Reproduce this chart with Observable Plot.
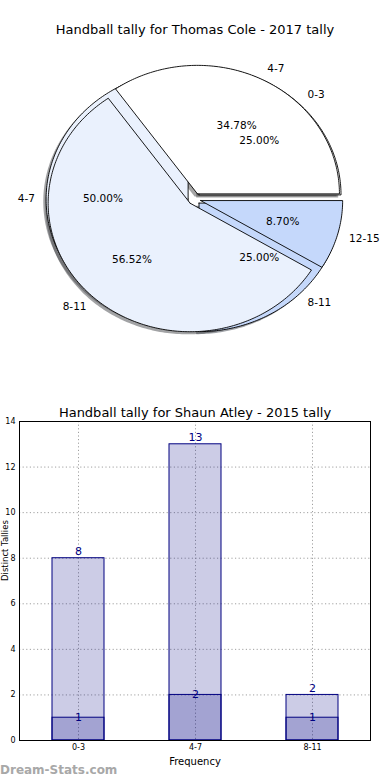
<!DOCTYPE html>
<html><head><meta charset="utf-8">
<script src="https://cdn.jsdelivr.net/npm/d3@7"></script>
<script src="https://cdn.jsdelivr.net/npm/@observablehq/plot@0.6"></script>
<style>
body{margin:0;background:#fff;font-family:"DejaVu Sans",sans-serif;}
#wrap{position:relative;width:390px;height:780px;overflow:hidden;background:#fff;}
.title{position:absolute;left:0;width:390px;text-align:center;font-size:13px;color:#000;line-height:16px;}
#pie{position:absolute;left:0;top:0;}
#bar{position:absolute;left:0;top:400px;}
#wm{position:absolute;left:0;top:763px;font-size:12px;color:#a8a8a8;font-weight:bold;}
</style></head><body>
<div id="wrap">
<div id="pie"></div>
<div class="title" style="top:22px" id="t1"></div>
<div id="bar"></div>
<div class="title" style="top:405px" id="t2"></div>
<div id="wm"></div>
</div>
<script>
// ---- data ----
const pieTitle = "Handball tally for Thomas Cole - 2017 tally";
const pieALabels = ["4-7", "8-11", "12-15"];
const pieAValues = [8, 13, 2];
const pieBLabels = ["0-3", "4-7", "8-11"];
const pieBValues = [1, 2, 1];
const pieColors = ["#ffffff", "#eaf1fd", "#c5d8fb"];

const barTitle = "Handball tally for Shaun Atley - 2015 tally";
const categories = ["0-3", "4-7", "8-11"];
const totals = [8, 13, 2];
const inner = [1, 2, 1];
const yTicks = [0, 2, 4, 6, 8, 10, 12, 14];
const xLabel = "Frequency";
const yLabel = "Distinct Tallies";
const watermark = "Dream-Stats.com";

document.getElementById("t1").textContent = pieTitle;
document.getElementById("t2").textContent = barTitle;
document.getElementById("wm").textContent = watermark;

// ---- pie geometry ----
const EXPLODE = 0.045, SH = 0.02;
function wedges(labels, values) {
  const total = d3.sum(values);
  let start = 0;
  return values.map((v, i) => {
    const frac = v / total;
    const t1 = start * 360, t2 = (start + frac) * 360;
    start += frac;
    const tm = (t1 + t2) / 2 * Math.PI / 180;
    const cx = EXPLODE * Math.cos(tm), cy = EXPLODE * Math.sin(tm);
    const pts = [{x: cx, y: cy}];
    const n = Math.max(2, Math.ceil(t2 - t1));
    for (let k = 0; k <= n; k++) {
      const a = (t1 + (t2 - t1) * k / n) * Math.PI / 180;
      pts.push({x: cx + Math.cos(a), y: cy + Math.sin(a)});
    }
    pts.push({x: cx, y: cy});
    return {
      pts, color: pieColors[i % pieColors.length], label: labels[i],
      pct: (frac * 100).toFixed(2) + "%",
      lx: cx + 1.1 * Math.cos(tm), ly: cy + 1.1 * Math.sin(tm),
      px: cx + 0.6 * Math.cos(tm), py: cy + 0.6 * Math.sin(tm)
    };
  });
}
const wA = wedges(pieALabels, pieAValues);
const wB = wedges(pieBLabels, pieBValues);
function shade(c) {
  const r = d3.rgb(c);
  return d3.rgb(r.r * 0.3, r.g * 0.3, r.b * 0.3).formatHex();
}
const pieMarks = [];
for (const w of [...wB, ...wA]) {
  pieMarks.push(Plot.line(w.pts.map(p => ({x: p.x - SH, y: p.y - SH})),
    {x: "x", y: "y", fill: shade(w.color), fillOpacity: 0.5, stroke: "none"}));
}
for (const w of [...wB, ...wA]) {
  pieMarks.push(Plot.line(w.pts, {x: "x", y: "y", fill: w.color, stroke: "#000", strokeWidth: 0.9}));
}
const allW = [...wB, ...wA];
pieMarks.push(Plot.text(allW.filter(w => w.lx >= 0), {x: "lx", y: "ly", text: "label", textAnchor: "start", dx: -2, fontSize: 10.5, fill: "#000"}));
pieMarks.push(Plot.text(allW.filter(w => w.lx < 0), {x: "lx", y: "ly", text: "label", textAnchor: "end", dx: 3, fontSize: 10.5, fill: "#000"}));
pieMarks.push(Plot.text(allW, {x: "px", y: "py", text: "pct", fontSize: 10.5, fill: "#000"}));

const pie = Plot.plot({
  width: 390, height: 395, margin: 0,
  style: {fontFamily: "DejaVu Sans", background: "transparent"},
  x: {domain: [-1, 1], range: [52, 336], axis: null},
  y: {domain: [-1, 1], range: [327, 70], axis: null},
  marks: pieMarks
});
document.getElementById("pie").appendChild(pie);

// ---- bar chart ----
const barData = categories.map((c, i) => ({cat: c, total: totals[i], inner: inner[i]}));
const navy = "#000080";
const bar = Plot.plot({
  width: 390, height: 380,
  marginLeft: 19, marginRight: 20, marginTop: 21, marginBottom: 40,
  style: {fontFamily: "DejaVu Sans", background: "transparent"},
  x: {domain: categories, paddingInner: 0.556, paddingOuter: 0.278, label: null},
  y: {domain: [0, 14], label: null},
  marks: [
    Plot.gridX({stroke: "#a0a0a0", strokeOpacity: 1, strokeDasharray: "1.2,2.4"}),
    Plot.gridY(yTicks, {stroke: "#a0a0a0", strokeOpacity: 1, strokeDasharray: "1.2,2.4"}),
    Plot.barY(barData, {x: "cat", y: "total", fill: navy, fillOpacity: 0.2, stroke: navy, strokeWidth: 1}),
    Plot.barY(barData, {x: "cat", y: "inner", fill: navy, fillOpacity: 0.2, stroke: navy, strokeWidth: 1}),
    Plot.text(barData, {x: "cat", y: "total", text: d => String(d.total), lineAnchor: "bottom", dy: -3, fill: navy, fontSize: 11}),
    Plot.text(barData, {x: "cat", y: "inner", text: d => String(d.inner), fill: navy, fontSize: 11}),
    Plot.axisX({tickSize: 0, tickPadding: 4, fontSize: 8, label: null}),
    Plot.axisY(yTicks, {tickSize: 0, tickPadding: 4, fontSize: 8, label: null}),
    Plot.text([xLabel], {frameAnchor: "bottom", dy: 24, text: d => d, fontSize: 10, fill: "#000"}),
    Plot.text([yLabel], {frameAnchor: "left", dx: -14, rotate: -90, text: d => d, fontSize: 8.5, fill: "#000"}),
    Plot.frame({stroke: "#000", strokeWidth: 1})
  ]
});
document.getElementById("bar").appendChild(bar);
</script>
</body></html>
